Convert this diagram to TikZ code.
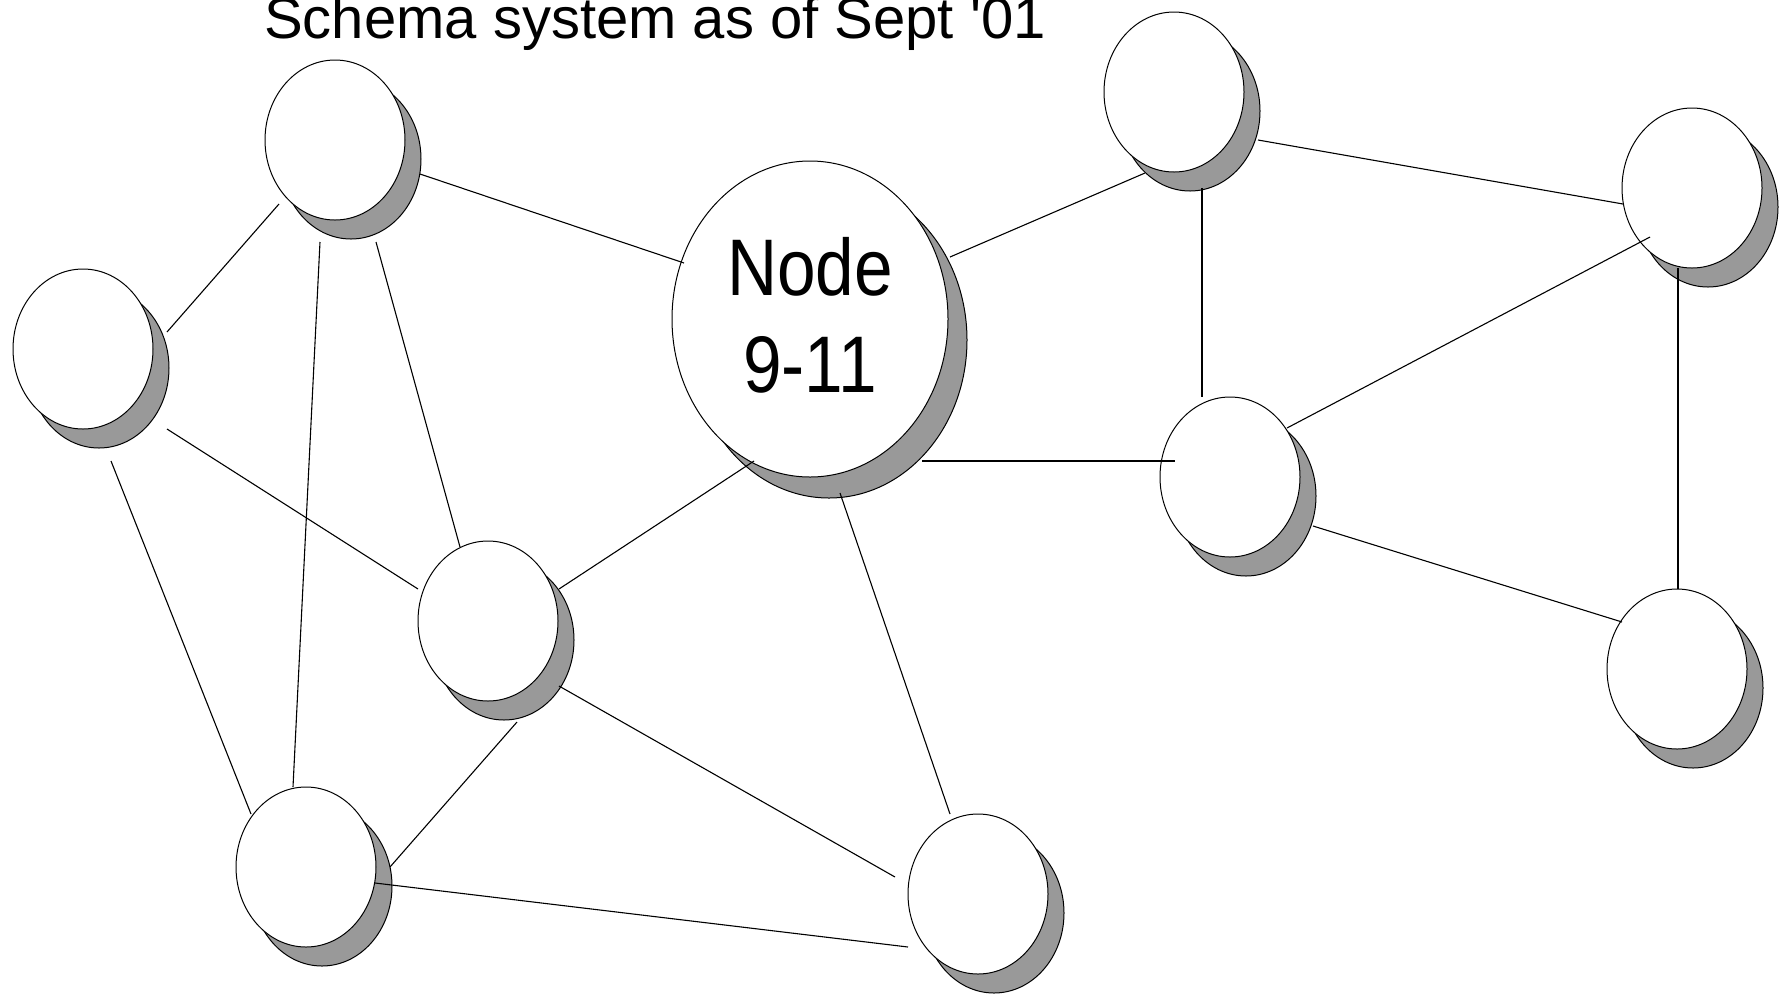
\documentclass[tikz,border=0pt]{standalone}
\usepackage{fontspec}
\setmainfont{Liberation Sans}
\usetikzlibrary{shapes.geometric,shadows,calc}

\tikzset{
    blob/.style={ellipse, draw, fill=white, line width=1pt, inner sep=0pt,
        minimum width=140pt, minimum height=160pt},
    smallblob/.style={blob,
        drop shadow={shadow xshift=16pt, shadow yshift=-19pt, fill=black!40,
            draw=black, line width=1pt, opacity=1}},
    hubblob/.style={blob, minimum width=276pt, minimum height=316pt,
        drop shadow={shadow xshift=19pt, shadow yshift=-21pt, fill=black!40,
            draw=black, line width=1pt, opacity=1}},
    link/.style={line width=1.1pt}
}

\begin{document}
\begin{tikzpicture}[x=1pt, y=-1pt]
\useasboundingbox (0,0) rectangle (1791,997);

% Title
\node[anchor=base, font=\fontsize{58}{70}\selectfont] (title) at (655,38)
    {Schema system as of Sept \textquotesingle01};

% Small nodes
\foreach \n/\x/\y in {nw/335/140, w/83/349, mid/488/621, sw/306/867, s/978/894,
                      n/1174/92, ne/1692/188, e/1230/477, se/1677/669}
    \node[smallblob] (\n) at (\x,\y) {};

% Hub
\node[hubblob] (hub) at (810,319)
    {\scalebox{1.02}[1.18]{\fontsize{68}{82}\selectfont\begin{tabular}{@{}c@{}}Node\rule{0pt}{67pt}\\9-11\end{tabular}}};

% Links (offsets from node centres)
\foreach \a/\ax/\ay/\b/\bx/\by in {
    nw/85/34/hub/-126/-56,
    nw/-56/64/w/84/-17,
    nw/-15/102/sw/-13/-80,
    nw/41/102/mid/-28/-74,
    w/84/80/mid/-70/-32,
    w/28/112/sw/-55/-53,
    mid/71/-32/hub/-56/142,
    mid/29/101/sw/84/0,
    mid/71/65/s/-83/-17,
    sw/69/16/s/-70/53,
    hub/30/174/s/-28/-80,
    hub/140/-62/n/-29/81,
    hub/112/142/e/-55/-16,
    n/84/48/ne/-69/16,
    n/28/96/e/-28/-80,
    ne/-42/49/e/57/-49,
    ne/-14/80/se/1/-80,
    e/83/49/se/-55/-47}
    \draw[link] ($(\a)+(\ax,\ay)$) -- ($(\b)+(\bx,\by)$);

\end{tikzpicture}
\end{document}
